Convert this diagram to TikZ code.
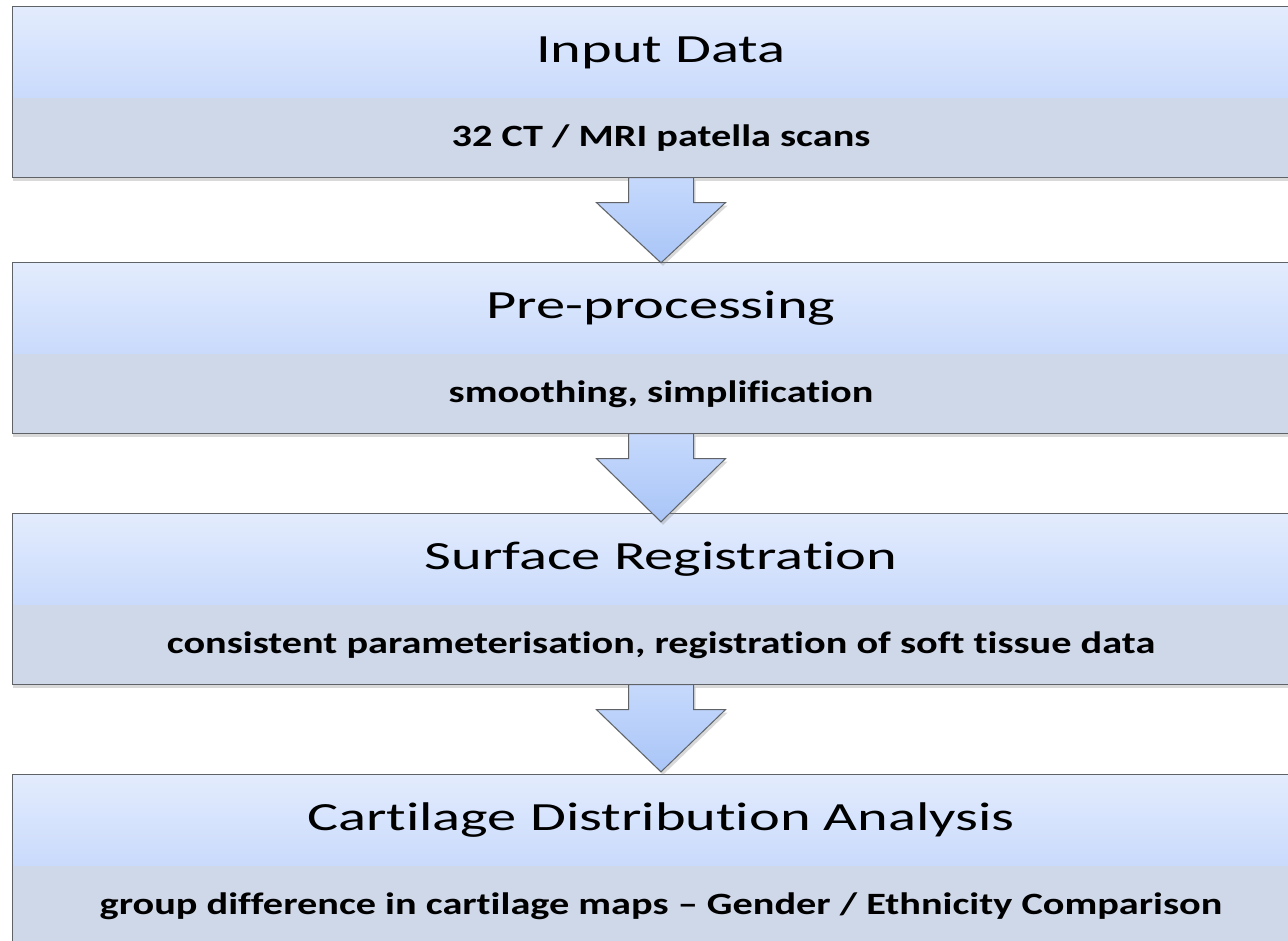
\documentclass[tikz,border=0pt]{standalone}
\usepackage{fontspec}
\setmainfont{Carlito}
\newfontfamily\headfont[FakeStretch=1.46,Ligatures=NoCommon]{Carlito}
\newfontfamily\bandfont[FakeStretch=1.30,Ligatures=NoCommon]{Carlito}
\usetikzlibrary{calc,backgrounds,shadows}

\definecolor{headtop}{HTML}{E3ECFD}
\definecolor{headbot}{HTML}{C9DAFC}
\definecolor{bandfill}{HTML}{CFD8E9}
\definecolor{arrowtop}{HTML}{C6D9FC}
\definecolor{arrowbot}{HTML}{A9C5F7}
\definecolor{edgegray}{HTML}{5F6368}

\newcommand{\flowarrow}[3]{%
	\draw[arrowbody] let \p1=(#1.south), \p2=(#2.north) in
		(\x1-32.5pt,\y1) -- (\x1-32.5pt,\y1-25pt) -- (\x1-64.5pt,\y1-25pt)
		-- (\x2,\y2-#3) -- (\x1+64.5pt,\y1-25pt) -- (\x1+32.5pt,\y1-25pt)
		-- (\x1+32.5pt,\y1) -- cycle;}

\begin{document}
\begin{tikzpicture}[x=1pt,y=-1pt,
		head/.style={minimum width=1296pt,minimum height=91pt,inner sep=0pt,
			top color=headtop,bottom color=headbot,font=\headfont\fontsize{40}{44}\selectfont},
		band/.style={minimum width=1296pt,minimum height=79pt,inner sep=0pt,
			fill=bandfill,font=\bandfont\bfseries\fontsize{31}{36}\selectfont},
		boxedge/.style={draw=edgegray,line width=1.2pt},
		boxshadow/.style={fill=white,drop shadow={opacity=0.3,shadow xshift=0pt,shadow yshift=-3pt}},
		arrowbody/.style={draw=edgegray,line width=1pt,top color=arrowtop,bottom color=arrowbot,
			drop shadow={opacity=0.3,shadow xshift=2pt,shadow yshift=-3pt}}]
	\clip(0,0)rectangle(1288,940);
	\node[head](head1)at(661,52.5){Input Data};
	\node[band,anchor=north](band1)at(head1.south){32 CT / MRI patella scans};
	\node[head](head2)at(661,308.5){Pre-processing};
	\node[band,anchor=north](band2)at(head2.south){smoothing, simplification};
	\node[head](head3)at(661,559.5){Surface Registration};
	\node[band,anchor=north](band3)at(head3.south){consistent parameterisation, registration of soft tissue data};
	\node[head](head4)at(661,820.5){Cartilage Distribution Analysis};
	\node[band,anchor=north](band4)at(head4.south){group difference in cartilage maps – Gender / Ethnicity Comparison};
	\begin{pgfonlayer}{background}
		\foreach \i in {1,...,4}
			\path[boxshadow](head\i.north west)rectangle(band\i.south east);
	\end{pgfonlayer}
	\foreach \i in {1,...,4}
		\draw[boxedge](head\i.north west)rectangle(band\i.south east);
	\flowarrow{band1}{head2}{0pt}
	\flowarrow{band2}{head3}{8pt}
	\flowarrow{band3}{head4}{-3pt}
\end{tikzpicture}
\end{document}
